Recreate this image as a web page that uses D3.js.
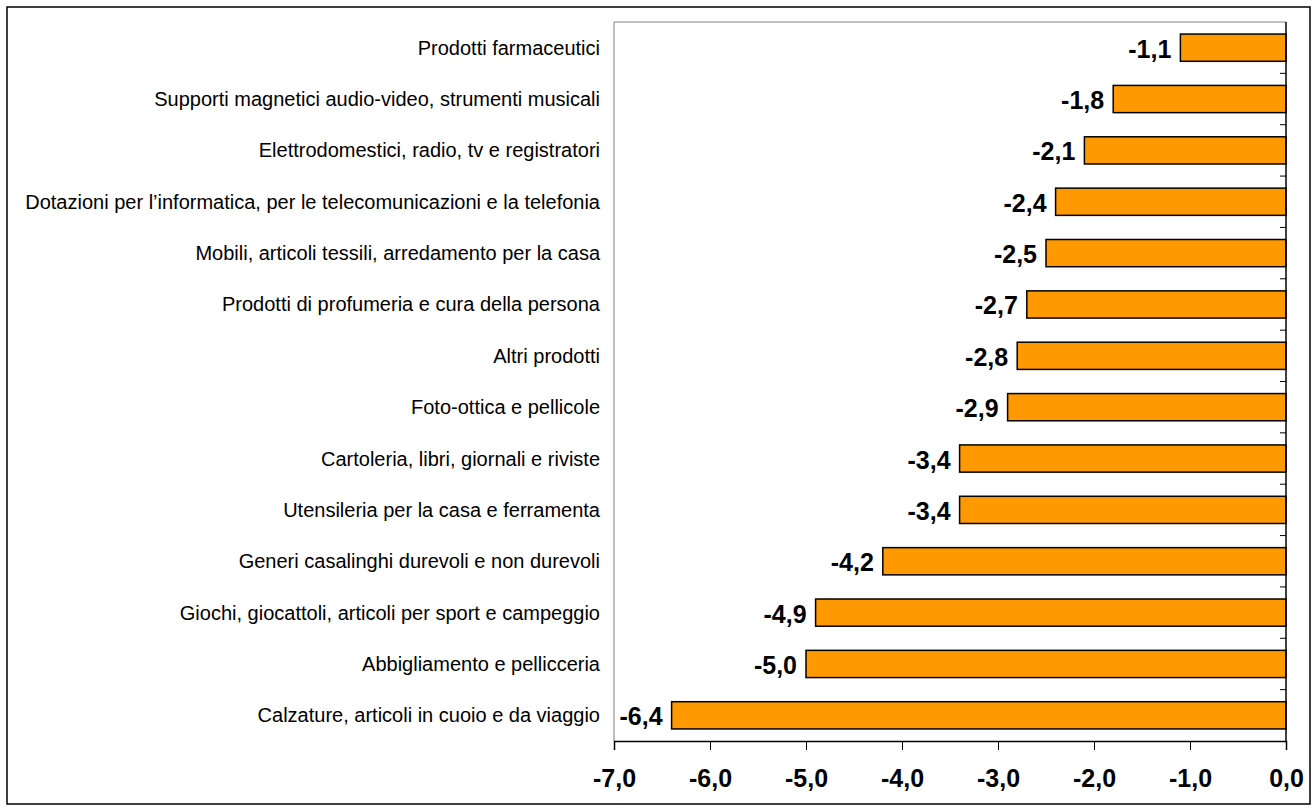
<!DOCTYPE html>
<html>
<head>
<meta charset="utf-8">
<script src="https://cdn.jsdelivr.net/npm/d3@7"></script>
<style>
  body { margin: 0; background: #fff; }
  svg text { font-family: Arial, "Liberation Sans", sans-serif; }
</style>
</head>
<body>
<svg id="chart" width="1315" height="811"></svg>
<script>
const categories = [
  'Prodotti farmaceutici',
  'Supporti magnetici audio-video, strumenti musicali',
  'Elettrodomestici, radio, tv e registratori',
  'Dotazioni per l\u2019informatica, per le telecomunicazioni e la telefonia',
  'Mobili, articoli tessili, arredamento per la casa',
  'Prodotti di profumeria e cura della persona',
  'Altri prodotti',
  'Foto-ottica e pellicole',
  'Cartoleria, libri, giornali e riviste',
  'Utensileria per la casa e ferramenta',
  'Generi casalinghi durevoli e non durevoli',
  'Giochi, giocattoli, articoli per sport e campeggio',
  'Abbigliamento e pellicceria',
  'Calzature, articoli in cuoio e da viaggio'
];
const values = [-1.1, -1.8, -2.1, -2.4, -2.5, -2.7, -2.8, -2.9, -3.4, -3.4, -4.2, -4.9, -5.0, -6.4];
const xTicks = [-7, -6, -5, -4, -3, -2, -1, 0];

const fmt = v => d3.format('.1f')(v).replace('.', ',').replace('\u2212', '-');

const svg = d3.select('#chart');
const plotL = 614, plotR = 1286, plotT = 22, plotB = 741;

// outer frame
svg.append('rect')
  .attr('x', 7).attr('y', 7)
  .attr('width', 1303).attr('height', 797)
  .attr('fill', 'none')
  .attr('stroke', '#000')
  .attr('stroke-width', 1.5);

const x = d3.scaleLinear().domain([-7, 0]).range([plotL, plotR]);
const y = d3.scaleBand().domain(categories).range([plotT, plotB]).paddingInner(0.47).paddingOuter(0.235);
const yb = d3.scaleBand().domain(categories).range([plotT, plotB]);

// plot area border (gray top/left)
svg.append('line')
  .attr('x1', plotL).attr('x2', plotR).attr('y1', plotT).attr('y2', plotT)
  .attr('stroke', '#808080').attr('stroke-width', 1);
svg.append('line')
  .attr('x1', plotL).attr('x2', plotL).attr('y1', plotT).attr('y2', plotB)
  .attr('stroke', '#808080').attr('stroke-width', 1);

// bars
svg.append('g')
  .selectAll('rect')
  .data(values)
  .enter()
  .append('rect')
  .attr('x', d => x(d))
  .attr('y', (d, i) => y(categories[i]))
  .attr('width', d => x(0) - x(d))
  .attr('height', y.bandwidth())
  .attr('fill', '#FF9900')
  .attr('stroke', '#000')
  .attr('stroke-width', 1.5);

// value labels
svg.append('g')
  .selectAll('text')
  .data(values)
  .enter()
  .append('text')
  .attr('x', d => x(d) - 9)
  .attr('y', (d, i) => y(categories[i]) + y.bandwidth() / 2)
  .attr('dy', '0.4em')
  .attr('text-anchor', 'end')
  .style('font-size', '25px')
  .style('font-weight', 'bold')
  .text(d => fmt(d));

// category labels
svg.append('g')
  .selectAll('text')
  .data(categories)
  .enter()
  .append('text')
  .attr('x', 600)
  .attr('y', d => yb(d) + yb.bandwidth() / 2)
  .attr('dy', '0.35em')
  .attr('text-anchor', 'end')
  .style('font-size', '20px')
  .text(d => d);

// right axis (category boundaries, inward ticks)
const yAxis = svg.append('g')
  .attr('transform', `translate(${plotR},0)`);
yAxis.append('line')
  .attr('x1', 0).attr('x2', 0).attr('y1', plotT).attr('y2', plotB)
  .attr('stroke', '#000').attr('stroke-width', 1.5);
yAxis.selectAll('.tick')
  .data(categories.slice(1))
  .enter()
  .append('line')
  .attr('x1', -6).attr('x2', 0)
  .attr('y1', d => yb(d)).attr('y2', d => yb(d))
  .attr('stroke', '#000').attr('stroke-width', 1);

// bottom axis
const xAxis = svg.append('g')
  .attr('transform', `translate(0,${plotB})`)
  .call(d3.axisBottom(x).tickValues(xTicks).tickSize(9).tickPadding(19).tickFormat(fmt));
xAxis.select('.domain').attr('stroke', '#000').attr('stroke-width', 1.5);
xAxis.selectAll('.tick line').attr('stroke', '#000').attr('stroke-width', 1);
xAxis.selectAll('.tick text')
  .style('font-size', '25px')
  .style('font-weight', 'bold')
  .style('font-family', 'Arial, "Liberation Sans", sans-serif')
  .attr('fill', '#000');
</script>
</body>
</html>
